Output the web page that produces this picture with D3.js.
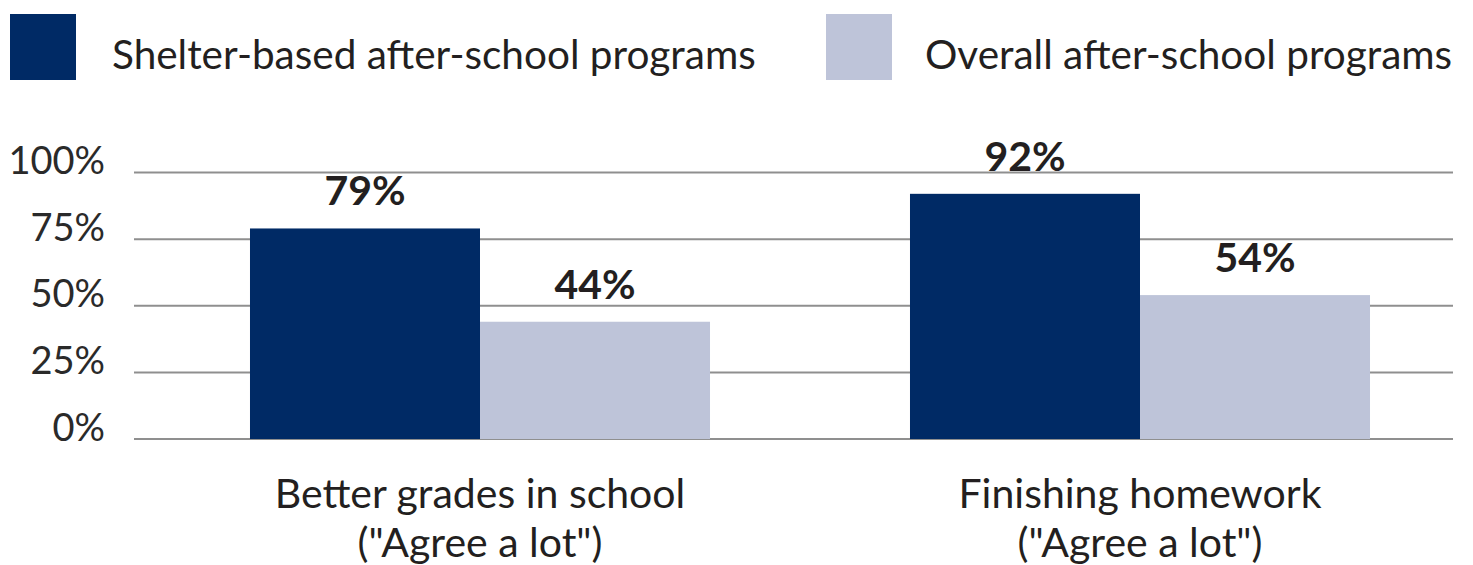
<!DOCTYPE html>
<html><head><meta charset="utf-8">
<script src="https://cdn.jsdelivr.net/npm/d3@7"></script>
<style>
html,body{margin:0;padding:0;background:#fff;}
svg text{font-family:Lato,"Open Sans",sans-serif;fill:#231f20;}
</style></head>
<body>
<svg id="chart" width="1473" height="565"></svg>
<script>
const categories = [["Better grades in school", "(\"Agree a lot\")"], ["Finishing homework", "(\"Agree a lot\")"]];
const categoryKeys = ["grades", "homework"];
const seriesNames = ["Shelter-based after-school programs", "Overall after-school programs"];
const shelterValues = [0.79, 0.92];
const overallValues = [0.44, 0.54];
const yTicks = [0, 0.25, 0.5, 0.75, 1];
const yTickLabels = ["0%", "25%", "50%", "75%", "100%"];
const colors = ["#002a65", "#bec4d9"];

const svg = d3.select("#chart");
const series = [shelterValues, overallValues];

const x0 = d3.scaleBand().domain(categoryKeys).range([150, 1470]).paddingInner(0.303).paddingOuter(0.1515);
const x1 = d3.scaleBand().domain([0, 1]).range([0, x0.bandwidth()]).padding(0);
const y = d3.scaleLinear().domain([0, 1]).range([439, 172.5]);

// y axis labels
const yAxis = d3.axisLeft(y).tickValues(yTicks).tickSize(0).tickFormat((d, i) => yTickLabels[i]);
const gy = svg.append("g").attr("transform", "translate(105,0)").call(yAxis);
gy.select(".domain").remove();
gy.selectAll("text").attr("x", 0).attr("dy", "0.03em").style("font-size", "38px").style("fill", "#2a2a2a")
  .style("font-family", "Lato, sans-serif");

// gridlines
svg.append("g").selectAll("line").data(yTicks).join("line")
  .attr("x1", 134).attr("x2", 1453)
  .attr("y1", d => y(d)).attr("y2", d => y(d))
  .attr("stroke", "#8f8f8f").attr("stroke-width", 2);

// bars
const groups = svg.append("g").selectAll("g").data(categoryKeys).join("g")
  .attr("transform", d => `translate(${x0(d)},0)`);
groups.selectAll("rect").data((d, ci) => series.map((s, si) => ({si, v: s[ci]}))).join("rect")
  .attr("x", d => x1(d.si)).attr("width", x1.bandwidth())
  .attr("y", d => y(d.v)).attr("height", d => y(0) - y(d.v))
  .attr("fill", d => colors[d.si]);
groups.selectAll("text.val").data((d, ci) => series.map((s, si) => ({si, v: s[ci]}))).join("text")
  .attr("class", "val")
  .attr("x", d => x1(d.si) + x1.bandwidth() / 2)
  .attr("y", d => y(d.v) - 23)
  .attr("text-anchor", "middle")
  .style("font-size", "41px").style("font-weight", "700")
  .text(d => Math.round(d.v * 100) + "%");

// category labels
const xl = svg.append("g").selectAll("text").data(categoryKeys).join("text")
  .attr("x", d => x0(d) + x0.bandwidth() / 2)
  .attr("y", 508)
  .attr("text-anchor", "middle")
  .style("font-size", "41px");
xl.selectAll("tspan").data((d, i) => categories[i]).join("tspan")
  .attr("x", function() { return this.parentNode.getAttribute("x"); })
  .attr("dy", (d, i) => i === 0 ? 0 : 49)
  .text(d => d);

// legend
const legendX = [10, 826];
const leg = svg.append("g").selectAll("g").data(seriesNames).join("g")
  .attr("transform", (d, i) => `translate(${legendX[i]},14)`);
leg.append("rect").attr("width", 66).attr("height", 66).attr("fill", (d, i) => colors[i]);
leg.append("text").attr("x", (d, i) => i === 0 ? 102 : 99).attr("y", 55)
  .style("font-size", "40.5px").text(d => d);
</script>
</body></html>
